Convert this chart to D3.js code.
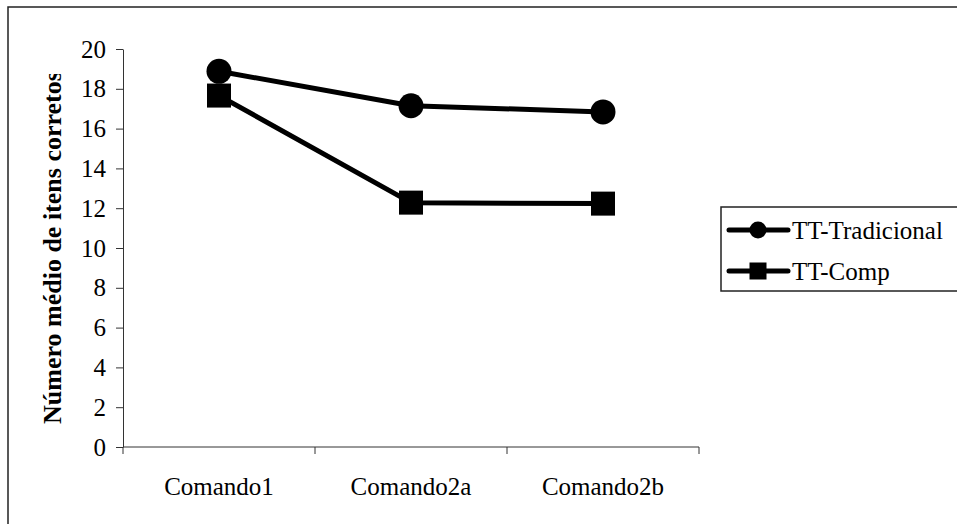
<!DOCTYPE html>
<html>
<head>
<meta charset="utf-8">
<script src="https://cdn.jsdelivr.net/npm/d3@7"></script>
<style>
  body { margin: 0; background: #fff; }
  svg { display: block; }
</style>
</head>
<body>
<svg id="chart" width="957" height="524"></svg>
<script>
const categories = ["Comando1", "Comando2a", "Comando2b"];
const seriesNames = ["TT-Tradicional", "TT-Comp"];
const tradicional = [18.88, 17.15, 16.84];
const comp = [17.66, 12.28, 12.23];
const yTicks = [0, 2, 4, 6, 8, 10, 12, 14, 16, 18, 20];
const yTitle = "Número médio de itens corretos";

const FONT = "'Liberation Serif', 'Times New Roman', serif";
const svg = d3.select("#chart");
const plot = { left: 123, right: 699, top: 49, bottom: 447 };

// outer frame (extends past the right and bottom edges)
svg.append("rect")
  .attr("x", 8).attr("y", 7).attr("width", 1000).attr("height", 600)
  .attr("fill", "none").attr("stroke", "#222").attr("stroke-width", 1.5);

const x = d3.scaleBand().domain(categories).range([plot.left, plot.right]).padding(0);
const y = d3.scaleLinear().domain([0, 20]).range([plot.bottom, plot.top]);
const cx = d => x(d) + x.bandwidth() / 2;

// Y axis
const yAxis = svg.append("g")
  .attr("transform", `translate(${plot.left},0)`)
  .call(d3.axisLeft(y).tickValues(yTicks).tickSize(7).tickSizeOuter(0).tickPadding(10));
yAxis.select(".domain").attr("stroke", "#333");
yAxis.selectAll(".tick line").attr("stroke", "#333");
yAxis.selectAll(".tick text")
  .style("font-family", FONT)
  .style("font-size", "25px").attr("fill", "#000");

// X axis line + ticks at band edges
const xg = svg.append("g");
xg.append("line")
  .attr("x1", plot.left).attr("x2", plot.right)
  .attr("y1", plot.bottom).attr("y2", plot.bottom)
  .attr("stroke", "#333");
const edges = categories.map(c => x(c)).concat([x(categories[categories.length - 1]) + x.bandwidth()]);
xg.selectAll("line.tk").data(edges).enter().append("line")
  .attr("class", "tk")
  .attr("x1", d => d).attr("x2", d => d)
  .attr("y1", plot.bottom).attr("y2", plot.bottom + 7)
  .attr("stroke", "#333");
xg.selectAll("text").data(categories).enter().append("text")
  .attr("x", d => cx(d)).attr("y", 495)
  .attr("text-anchor", "middle")
  .style("font-family", FONT)
  .style("font-size", "25px")
  .text(d => d);

// Y title, clipped at the top
svg.append("clipPath").attr("id", "titleClip")
  .append("rect").attr("x", 0).attr("y", 74).attr("width", 120).attr("height", 420);
svg.append("g").attr("clip-path", "url(#titleClip)")
  .append("text")
  .attr("transform", "translate(61,424) rotate(-90)")
  .attr("text-anchor", "start")
  .style("font-family", FONT)
  .style("font-size", "26px")
  .style("font-weight", "bold")
  .text(yTitle);

// Lines
const line = d3.line().x((d, i) => cx(categories[i])).y(d => y(d));
[tradicional, comp].forEach(vals => {
  svg.append("path")
    .attr("d", line(vals))
    .attr("fill", "none").attr("stroke", "#000").attr("stroke-width", 5)
    .attr("stroke-linejoin", "round");
});

// Markers
svg.selectAll("circle.m").data(tradicional).enter().append("circle")
  .attr("class", "m")
  .attr("cx", (d, i) => cx(categories[i])).attr("cy", d => y(d))
  .attr("r", 12.5).attr("fill", "#000");
const sq = 24;
svg.selectAll("rect.m").data(comp).enter().append("rect")
  .attr("class", "m")
  .attr("x", (d, i) => cx(categories[i]) - sq / 2).attr("y", d => y(d) - sq / 2)
  .attr("width", sq).attr("height", sq).attr("fill", "#000");

// Legend
const lg = svg.append("g");
lg.append("rect")
  .attr("x", 721).attr("y", 207).attr("width", 300).attr("height", 84)
  .attr("fill", "#fff").attr("stroke", "#222").attr("stroke-width", 1.5);
const rows = [230, 271];
seriesNames.forEach((name, i) => {
  const ry = rows[i];
  lg.append("line").attr("x1", 729).attr("x2", 788).attr("y1", ry).attr("y2", ry)
    .attr("stroke", "#000").attr("stroke-width", 5).attr("stroke-linecap", "round");
  if (i === 0) {
    lg.append("circle").attr("cx", 758).attr("cy", ry).attr("r", 8.5).attr("fill", "#000");
  } else {
    lg.append("rect").attr("x", 758 - 8.5).attr("y", ry - 8.5).attr("width", 17).attr("height", 17).attr("fill", "#000");
  }
  lg.append("text").attr("x", 792).attr("y", ry + 8.5)
    .style("font-family", FONT)
    .style("font-size", "25px").text(name);
});
</script>
</body>
</html>
